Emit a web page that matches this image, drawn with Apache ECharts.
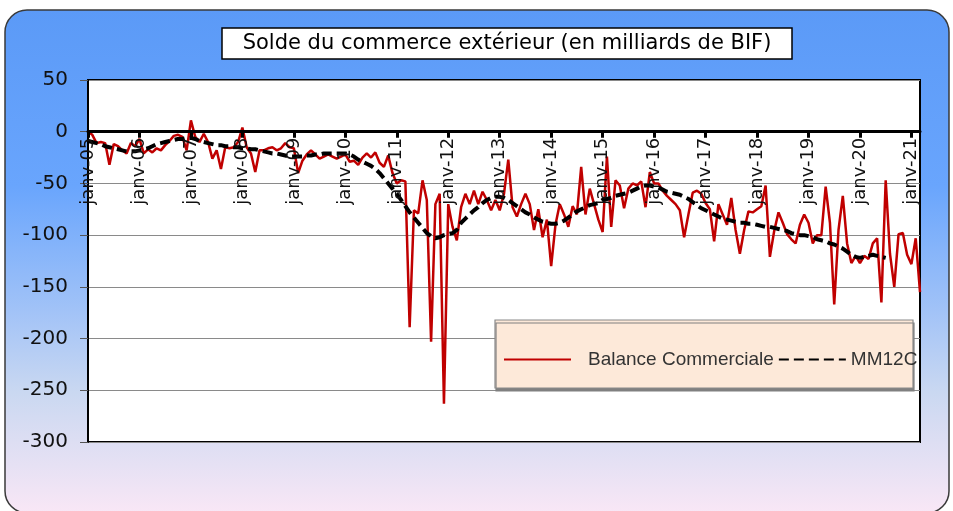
<!DOCTYPE html>
<html>
<head>
<meta charset="utf-8">
<script src="https://cdn.jsdelivr.net/npm/echarts@6/dist/echarts.min.js"></script>
<style>
  html, body { margin: 0; padding: 0; background: #fff; }
  #chart { width: 953px; height: 511px; }
</style>
</head>
<body>
<div id="chart"></div>
<script>
// Month labels (French abbreviations), monthly series Jan 2005 - Mar 2021
const monthNames = ['janv', 'févr', 'mars', 'avr', 'mai', 'juin', 'juil', 'août', 'sept', 'oct', 'nov', 'déc'];
const firstYear = 2005;
const lastYear = 2021;
const monthsInLastYear = 3;

const categories = [];
for (let y = firstYear; y <= lastYear; y++) {
  const count = y === lastYear ? monthsInLastYear : 12;
  for (let m = 0; m < count; m++) {
    categories.push(monthNames[m] + '-' + String(y).slice(2));
  }
}

// Balance commerciale, milliards de BIF (monthly)
const balance = [
  0, -3, -11, -10, -11, -32, -12, -14, -18, -21, -11, -14,          // 2005
  -7, -21, -17, -20, -16, -18, -13, -9, -4, -3, -5, -18,            // 2006
  11, -5, -10, -2, -10, -26, -18, -36, -15, -16, -15, -10,          // 2007
  4, -15, -21, -39, -18, -18, -16, -15, -18, -16, -11, -15,         // 2008
  -16, -40, -28, -22, -18, -22, -26, -24, -22, -24, -26, -24,       // 2009
  -22, -29, -28, -32, -25, -21, -25, -20, -30, -34, -23, -40,       // 2010
  -50, -47, -48, -189, -76, -79, -47, -66, -203, -70, -60, -263,    // 2011
  -70, -92, -105, -73, -60, -70, -57, -70, -58, -66, -76, -66,      // 2012
  -76, -60, -27, -73, -82, -70, -60, -70, -95, -75, -102, -85,      // 2013
  -130, -90, -70, -80, -92, -72, -80, -34, -80, -55, -70, -85,      // 2014
  -97, -24, -92, -47, -52, -74, -55, -50, -52, -48, -73, -39,       // 2015
  -50, -50, -57, -62, -66, -70, -76, -102, -80, -59, -57, -60,      // 2016
  -69, -75, -106, -70, -80, -90, -64, -95, -118, -95, -77, -78,     // 2017
  -75, -72, -52, -121, -96, -78, -88, -99, -104, -108, -90, -80,    // 2018
  -88, -108, -100, -100, -53, -88, -167, -95, -62, -108, -127, -120, // 2019
  -127, -120, -123, -108, -103, -165, -47, -118, -150, -99, -98, -119, // 2020
  -128, -103, -155                                                  // 2021
];

// MM12C (12-month moving average), ends Jul 2020
const mm12c = [
  -9, -10, -11, -12, -14, -15, -16, -17, -18, -19, -19, -19,
  -18, -17, -16, -14, -12, -11, -10, -9, -8, -7, -7, -6,
  -6, -7, -9, -10, -11, -12, -13, -13, -14, -14, -15, -15,
  -16, -16, -17, -17, -18, -19, -20, -21, -21, -22, -23, -24,
  -24, -24, -24, -23, -23, -22, -22, -21, -21, -21, -21, -21,
  -21, -22, -24, -27, -29, -31, -33, -36, -40, -45, -50, -55,
  -60, -66, -72, -78, -83, -88, -93, -98, -101, -103, -102, -100,
  -99, -98, -95, -88, -84, -80, -76, -73, -69, -66, -64, -63,
  -63, -64, -66, -69, -72, -75, -78, -80, -83, -85, -87, -88,
  -89, -89, -88, -86, -83, -80, -77, -75, -73, -71, -70, -69,
  -66, -65, -64, -62, -61, -60, -59, -57, -55, -53, -52, -52,
  -53, -54, -56, -58, -59, -60, -61, -63, -65, -68, -71, -74,
  -76, -78, -80, -82, -84, -85, -86, -87, -88, -88, -89, -89,
  -90, -91, -92, -92, -93, -94, -95, -96, -98, -99, -100, -100,
  -101, -102, -104, -105, -106, -108, -109, -111, -113, -116, -119, -121,
  -122, -121, -120, -119, -120, -121, -122,
  null, null, null, null, null, null, null, null
];

const yMin = -300;
const yMax = 50;
const yStep = 50;

// Plot area box
const gridBox = { left: 88, right: 33, top: 80, bottom: 69 };
const chartHeight = 511;
const gridHeight = chartHeight - gridBox.top - gridBox.bottom;
// Move the category axis (with its labels) up to the zero line
const zeroLineOffset = -gridHeight * (0 - yMin) / (yMax - yMin);

const chart = echarts.init(document.getElementById('chart'), null, { renderer: 'canvas' });

chart.setOption({
  animation: false,
  textStyle: { fontFamily: 'Liberation Sans' },
  graphic: [
    {
      type: 'rect',
      z: -10,
      silent: true,
      shape: { x: 5, y: 10, width: 944, height: 503, r: 22 },
      style: {
        fill: {
          type: 'linear', x: 0, y: 0, x2: 0, y2: 1,
          colorStops: [
            { offset: 0, color: '#5b9af7' },
            { offset: 0.35, color: '#69a5fd' },
            { offset: 0.6, color: '#a2c3f7' },
            { offset: 0.76, color: '#cad8f1' },
            { offset: 1, color: '#f9e7f6' }
          ]
        },
        stroke: '#3a3a3a',
        lineWidth: 1.5
      }
    },
    {
      type: 'rect',
      z: 3,
      silent: true,
      shape: { x: 495, y: 320, width: 418, height: 68 },
      style: {
        fill: '#fde9d9',
        stroke: '#8a8a8a',
        lineWidth: 1.2,
        shadowColor: '#808080',
        shadowOffsetX: 1,
        shadowOffsetY: 3
      }
    }
  ],
  title: {
    text: 'Solde du commerce extérieur (en milliards de BIF)',
    left: 486,
    top: 28,
    textAlign: 'center',
    backgroundColor: '#fff',
    borderColor: '#000',
    borderWidth: 1.5,
    padding: [5, 21],
    textStyle: { fontFamily: 'DejaVu Sans', fontSize: 21, fontWeight: 'normal', color: '#000' }
  },
  legend: {
    left: 498,
    top: 345,
    itemWidth: 67,
    itemHeight: 16,
    itemGap: 4,
    itemStyle: { opacity: 0 },
    textStyle: { fontFamily: 'Liberation Sans', fontSize: 19, color: '#333', padding: [0, 0, 0, 12] },
    data: [
      { name: 'Balance Commerciale' },
      { name: 'MM12C', textStyle: { padding: [0, 0, 0, 0] } }
    ]
  },
  grid: {
    left: gridBox.left, right: gridBox.right, top: gridBox.top, bottom: gridBox.bottom,
    show: true,
    backgroundColor: '#fff',
    borderColor: '#000',
    borderWidth: 2,
    outerBoundsMode: 'none'
  },
  xAxis: {
    type: 'category',
    data: categories,
    boundaryGap: false,
    z: 5,
    offset: zeroLineOffset,
    axisLine: { onZero: false, lineStyle: { color: '#000', width: 3 } },
    axisTick: { interval: 11, length: 6, lineStyle: { color: '#000', width: 3 } },
    axisLabel: { interval: 11, rotate: 90, margin: 6, fontFamily: 'DejaVu Sans', fontSize: 18, color: '#111' },
    splitLine: { show: false }
  },
  yAxis: {
    type: 'value',
    min: yMin,
    max: yMax,
    interval: yStep,
    axisLine: { show: true, lineStyle: { color: '#000', width: 2 } },
    axisTick: { show: true, length: 8, lineStyle: { color: '#555' } },
    axisLabel: { margin: 20, fontFamily: 'DejaVu Sans', fontSize: 20, color: '#111' },
    splitLine: { lineStyle: { color: '#8a8a8a', width: 1 } }
  },
  series: [
    {
      name: 'Balance Commerciale',
      type: 'line',
      data: balance,
      symbol: 'none',
      lineStyle: { color: '#c00000', width: 2.5 },
      itemStyle: { color: '#c00000' }
    },
    {
      name: 'MM12C',
      type: 'line',
      data: mm12c,
      symbol: 'none',
      lineStyle: { color: '#000', width: 4, type: [10, 5] },
      itemStyle: { color: '#000' }
    }
  ]
});
</script>
</body>
</html>
